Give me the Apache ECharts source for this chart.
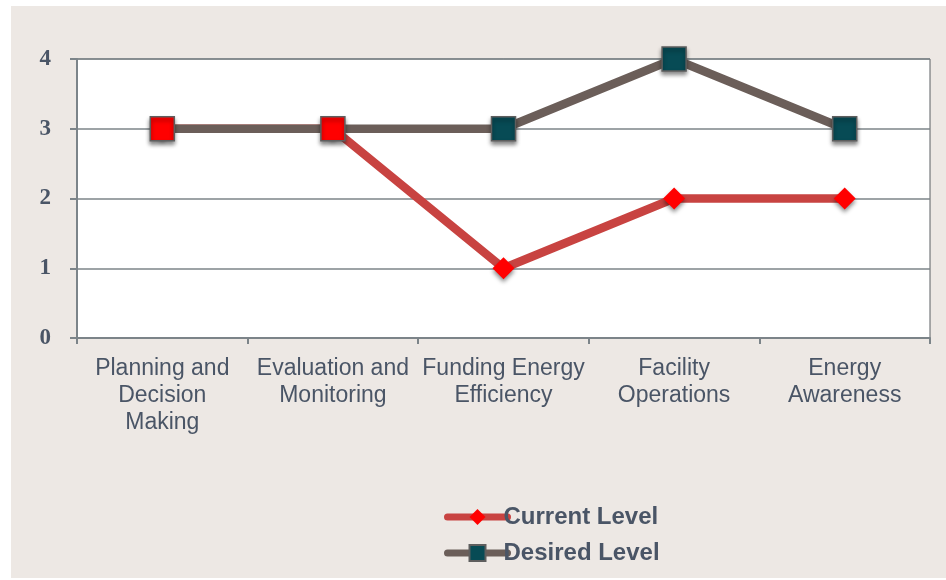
<!DOCTYPE html>
<html lang="en">
<head>
    <meta charset="UTF-8">
    <title>Energy Management Levels</title>
    <script src="https://cdn.jsdelivr.net/npm/echarts@6/dist/echarts.min.js"></script>
    <style>
        html, body { margin: 0; padding: 0; background: #fff; }
    </style>
</head>
<body>
<div id="chartContainer" style="width:946px;height:580px;"></div>
<script type="text/javascript">
    var categories = ['Planning and\nDecision\nMaking', 'Evaluation and\nMonitoring', 'Funding Energy\nEfficiency', 'Facility\nOperations', 'Energy\nAwareness'];
    var currentLevel = [3, 3, 1, 2, 2];
    var desiredLevel = [3, 3, 3, 4, 3];
    var yTicks = [0, 1, 2, 3, 4];

    var textColor = '#4a5566';
    var markerShadow = {
        shadowColor: 'rgba(0,0,0,0.45)',
        shadowBlur: 4,
        shadowOffsetY: 3
    };

    // 前两个点的方块是红色的
    var desiredData = desiredLevel.map(function (v, i) {
        if (i < 2) {
            return { value: v, itemStyle: { color: '#ff0000' } };
        }
        return v;
    });

    var myChart = echarts.init(document.getElementById('chartContainer'));
    var option = {
        backgroundColor: '#ffffff',
        animation: false,
        graphic: [{
            type: 'rect',
            z: -10,
            shape: { x: 11, y: 6, width: 935, height: 572 },
            style: { fill: '#ede8e4' }
        }],
        grid: {
            left: 77, right: 16, top: 59, bottom: 242,
            show: true,
            backgroundColor: '#ffffff',
            borderColor: '#5a5f63',
            borderWidth: 1
        },
        legend: {
            orient: 'vertical',
            left: 439,
            top: 500,
            itemGap: 12,
            itemWidth: 60,
            itemHeight: 20,
            lineStyle: { width: 7, cap: 'round' },
            textStyle: {
                color: textColor,
                fontFamily: 'Liberation Sans, Arial, sans-serif',
                fontWeight: 'bold',
                fontSize: 24,
                padding: [0, 0, 0, -9]
            },
            data: [
                { name: 'Current Level', itemStyle: { shadowBlur: 0, shadowOffsetY: 0 } },
                { name: 'Desired Level', itemStyle: { shadowBlur: 0, shadowOffsetY: 0 } }
            ]
        },
        xAxis: {
            type: 'category',
            data: categories,
            boundaryGap: true,
            axisLine: { lineStyle: { color: '#7c8489', width: 2 } },
            axisTick: { show: true, length: 6, lineStyle: { color: '#7c8489', width: 2 } },
            axisLabel: {
                interval: 0,
                margin: 17,
                color: textColor,
                fontFamily: 'Liberation Sans, Arial, sans-serif',
                fontSize: 23,
                lineHeight: 27
            }
        },
        yAxis: {
            type: 'value',
            min: yTicks[0],
            max: yTicks[yTicks.length - 1],
            interval: 1,
            axisLine: { show: true, lineStyle: { color: '#7c8489', width: 2 } },
            axisTick: { show: true, length: 7, lineStyle: { color: '#7c8489', width: 2 } },
            splitLine: { lineStyle: { color: '#7c8489', width: 1.5 } },
            axisLabel: {
                margin: 26,
                color: textColor,
                fontFamily: 'Liberation Serif, Times New Roman, serif',
                fontWeight: 'bold',
                fontSize: 23
            }
        },
        series: [
            {
                name: 'Current Level',
                type: 'line',
                data: currentLevel,
                symbol: 'diamond',
                symbolSize: 22,
                lineStyle: { color: '#c84341', width: 8.5 },
                itemStyle: Object.assign({ color: '#ff0000' }, markerShadow),
                z: 2
            },
            {
                name: 'Desired Level',
                type: 'line',
                data: desiredData,
                symbol: 'rect',
                symbolSize: 24,
                lineStyle: { color: '#6b5e59', width: 8.5 },
                itemStyle: Object.assign({ color: '#074b55', borderColor: '#5e5e5e', borderWidth: 1.5 }, markerShadow),
                z: 3
            }
        ]
    };
    myChart.setOption(option);
</script>
</body>
</html>
